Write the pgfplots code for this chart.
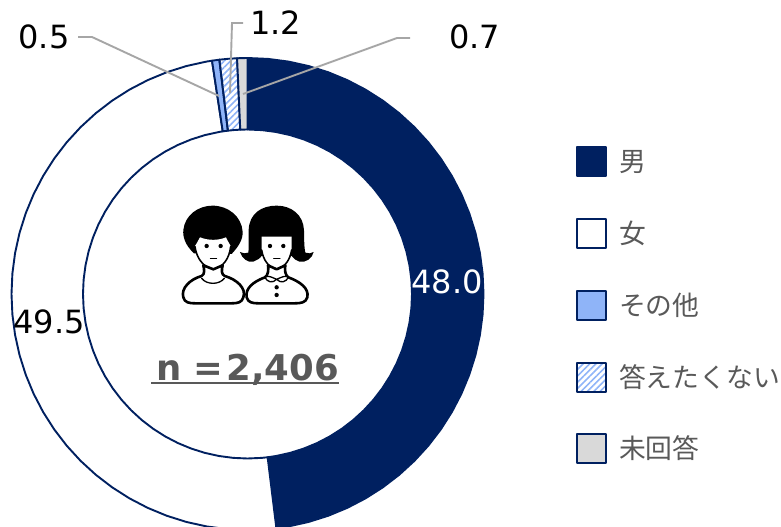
\documentclass[border=0pt]{standalone}
\usepackage{pgfplots}
\pgfplotsset{compat=1.18}
\usepackage{fontspec}
\usetikzlibrary{patterns.meta}
\setmainfont{DejaVu Sans}
\newfontfamily\cjk{Noto Sans CJK JP}
\definecolor{navy}{HTML}{002060}
\definecolor{lblue}{HTML}{8FB4F8}
\definecolor{lgray}{HTML}{D9D9D9}
\definecolor{txt}{HTML}{595959}
\definecolor{lead}{HTML}{A6A6A6}
\begin{document}
\begin{tikzpicture}
\path[use as bounding box] (0,0) rectangle (781bp,527bp);
\begin{axis}[
  at={(0,0)}, anchor=south west,
  scale only axis, width=781bp, height=527bp,
  xmin=-247.5, xmax=533.5, ymin=-233, ymax=294,
  axis lines=none, data cs=polar, no markers,
  every axis plot/.append style={draw=navy, line width=1.9bp, line join=round},
  legend cell align=left,
  legend image code/.code={\draw[#1,line width=2bp] (0bp,-11.5bp) rectangle (29bp,17.5bp);},
  legend style={at={(axis cs:328.5,147.5)}, anchor=north west, draw=none, fill=none, inner sep=0pt, outer sep=0pt,
    row sep=38.25bp, column sep=12bp,
    nodes={inner sep=0pt, outer sep=0pt, text height=22bp, text depth=8bp, font=\cjk\fontsize{26.8bp}{30bp}\selectfont, text=txt}},
]
% 男 48.0
\addplot[fill=navy] coordinates {
(90,236)(85,236)(80,236)(75,236)(70,236)(65,236)(60,236)(55,236)(50,236)(45,236)(40,236)(35,236)(30,236)(25,236)(20,236)(15,236)(10,236)(5,236)(0,236)
(-5,236)(-10,236)(-15,236)(-20,236)(-25,236)(-30,236)(-35,236)(-40,236)(-45,236)(-50,236)(-55,236)(-60,236)(-65,236)(-70,236)(-75,236)(-80,236)(-82.97,236)
(-82.97,164.5)(-80,164.5)(-75,164.5)(-70,164.5)(-65,164.5)(-60,164.5)(-55,164.5)(-50,164.5)(-45,164.5)(-40,164.5)(-35,164.5)(-30,164.5)(-25,164.5)(-20,164.5)(-15,164.5)(-10,164.5)(-5,164.5)
(0,164.5)(5,164.5)(10,164.5)(15,164.5)(20,164.5)(25,164.5)(30,164.5)(35,164.5)(40,164.5)(45,164.5)(50,164.5)(55,164.5)(60,164.5)(65,164.5)(70,164.5)(75,164.5)(80,164.5)(85,164.5)(90,164.5)
} --cycle;
\addlegendentry{男}
% 女 49.5
\addplot[fill=white] coordinates {
(-82.97,236)(-85,236)(-90,236)(-95,236)(-100,236)(-105,236)(-110,236)(-115,236)(-120,236)(-125,236)(-130,236)(-135,236)(-140,236)(-145,236)(-150,236)(-155,236)(-160,236)(-165,236)(-170,236)(-175,236)(-180,236)
(-185,236)(-190,236)(-195,236)(-200,236)(-205,236)(-210,236)(-215,236)(-220,236)(-225,236)(-230,236)(-235,236)(-240,236)(-245,236)(-250,236)(-255,236)(-260,236)(-261.35,236)
(-261.35,164.5)(-260,164.5)(-255,164.5)(-250,164.5)(-245,164.5)(-240,164.5)(-235,164.5)(-230,164.5)(-225,164.5)(-220,164.5)(-215,164.5)(-210,164.5)(-205,164.5)(-200,164.5)(-195,164.5)(-190,164.5)(-185,164.5)
(-180,164.5)(-175,164.5)(-170,164.5)(-165,164.5)(-160,164.5)(-155,164.5)(-150,164.5)(-145,164.5)(-140,164.5)(-135,164.5)(-130,164.5)(-125,164.5)(-120,164.5)(-115,164.5)(-110,164.5)(-105,164.5)(-100,164.5)(-95,164.5)(-90,164.5)(-85,164.5)(-82.97,164.5)
} --cycle;
\addlegendentry{女}
% その他 0.5
\addplot[fill=lblue] coordinates {(-261.35,236)(-263.15,236)(-263.15,164.5)(-261.35,164.5)} --cycle;
\addlegendentry{その他}
% 答えたくない 1.2
\addplot[pattern={Lines[angle=45,distance=4.5bp,line width=1.6bp]}, pattern color=lblue] coordinates {(-263.15,236)(-265.3,236)(-267.47,236)(-267.47,164.5)(-265.3,164.5)(-263.15,164.5)} --cycle;
\addlegendentry{答えたくない}
% 未回答 0.7
\addplot[fill=lgray] coordinates {(-267.47,236)(-269.99,236)(-269.99,164.5)(-267.47,164.5)} --cycle;
\addlegendentry{未回答}

\begin{scope}[shift={(axis cs:-247.5,294)}, x=1bp, y=-1bp]
  % leader lines
  \draw[lead, line width=1.9bp] (78,37) -- (92,37) -- (219,96);
  \draw[lead, line width=1.9bp] (243,23) -- (232,23) -- (230,93);
  \draw[lead, line width=1.9bp] (410,38) -- (397,38) -- (243,94);
  % data labels
  \begin{scope}[every node/.style={anchor=base, inner sep=0pt, font=\fontsize{32bp}{34bp}\selectfont}]
    \node[text=white] at (447,294) {48.0};
    \node at (49,334) {49.5};
    \node at (44,49) {0.5};
    \node at (275.5,35) {1.2};
    \node at (474.5,49) {0.7};
  \end{scope}
  % n
  \node[anchor=base west, inner sep=0pt, text=txt, font=\bfseries\fontsize{35.5bp}{38bp}\selectfont] at (156,381) {n =\kern3bp 2,406};
  \draw[txt, line width=2bp] (151,383.5) -- (339,383.5);
  % icon, in units of the 3x crop
  \begin{scope}[shift={(150,190)}, x=0.3333bp, y=-0.3333bp, line join=round, line cap=round]
    % boy
    \fill[black] (132,190) .. controls (105,165) and (98,140) .. (100,120) .. controls (105,75) and (145,47) .. (188,47) .. controls (235,47) and (275,80) .. (278,125) .. controls (279,150) and (265,170) .. (245,192) -- cycle;
    \fill[white] (135,168) .. controls (142,158) and (145,150) .. (150,142) .. controls (175,152) and (205,152) .. (228,142) .. controls (233,150) and (236,160) .. (242,168) .. controls (238,200) and (220,232) .. (190,238) .. controls (160,232) and (140,200) .. (135,168) -- cycle;
    \draw[black, line width=1.6bp] (135,170) .. controls (140,205) and (160,232) .. (190,238) .. controls (220,232) and (238,205) .. (242,170);
    \fill[white] (160,225) -- (160,248) -- (120,275) -- (258,275) -- (218,248) -- (218,225) -- (190,238) -- cycle;
    \draw[black, line width=2.6bp, fill=white] (100,322) .. controls (92,295) and (120,268) .. (155,258) .. controls (165,252) and (163,240) .. (160,226) -- (190,238) -- (218,226) .. controls (215,240) and (213,252) .. (224,258) .. controls (260,268) and (290,295) .. (280,322) .. controls (276,338) and (262,340) .. (245,340) -- (135,340) .. controls (118,340) and (104,338) .. (100,322) -- cycle;
    \draw[black, line width=1.3bp] (155,265) .. controls (170,285) and (208,285) .. (223,265);
    \fill[black] (170,168) circle (6.5) (212,168) circle (6.5);
    \draw[black, line width=1.1bp] (181,205) -- (200,205);
    % girl
    \fill[black] (296,120) .. controls (298,70) and (335,47) .. (380,47) .. controls (425,47) and (460,75) .. (462,120) .. controls (463,150) and (462,170) .. (466,188) .. controls (475,192) and (485,190) .. (491,186) .. controls (488,205) and (465,220) .. (448,215) .. controls (438,212) and (430,205) .. (425,198) -- (335,198) .. controls (330,205) and (320,212) .. (310,215) .. controls (295,220) and (275,205) .. (270,186) .. controls (278,190) and (288,192) .. (295,188) .. controls (298,170) and (295,150) .. (296,120) -- cycle;
    \fill[white] (335,140) -- (425,140) -- (425,180) .. controls (420,210) and (405,232) .. (380,238) .. controls (355,232) and (340,210) .. (335,180) -- cycle;
    \draw[black, line width=1.6bp] (335,180) .. controls (340,210) and (355,232) .. (380,238) .. controls (405,232) and (420,210) .. (425,180);
    \draw[black, line width=2.6bp, fill=white] (290,322) .. controls (285,295) and (310,275) .. (345,262) .. controls (355,255) and (356,240) .. (354,226) -- (380,238) -- (406,226) .. controls (404,240) and (405,255) .. (415,262) .. controls (450,275) and (478,295) .. (472,322) .. controls (468,338) and (452,340) .. (435,340) -- (325,340) .. controls (308,340) and (294,338) .. (290,322) -- cycle;
    \draw[black, line width=1.3bp, fill=white] (345,262) .. controls (350,275) and (368,282) .. (380,268) .. controls (392,282) and (410,275) .. (415,262) .. controls (405,255) and (395,262) .. (380,268) .. controls (365,262) and (355,255) .. (345,262) -- cycle;
    \fill[black] (380,292) circle (6.5) (380,315) circle (6.5) (360,168) circle (6.5) (400,168) circle (6.5);
    \draw[black, line width=1.1bp] (371,205) -- (390,205);
  \end{scope}
\end{scope}
\end{axis}
\end{tikzpicture}
\end{document}
